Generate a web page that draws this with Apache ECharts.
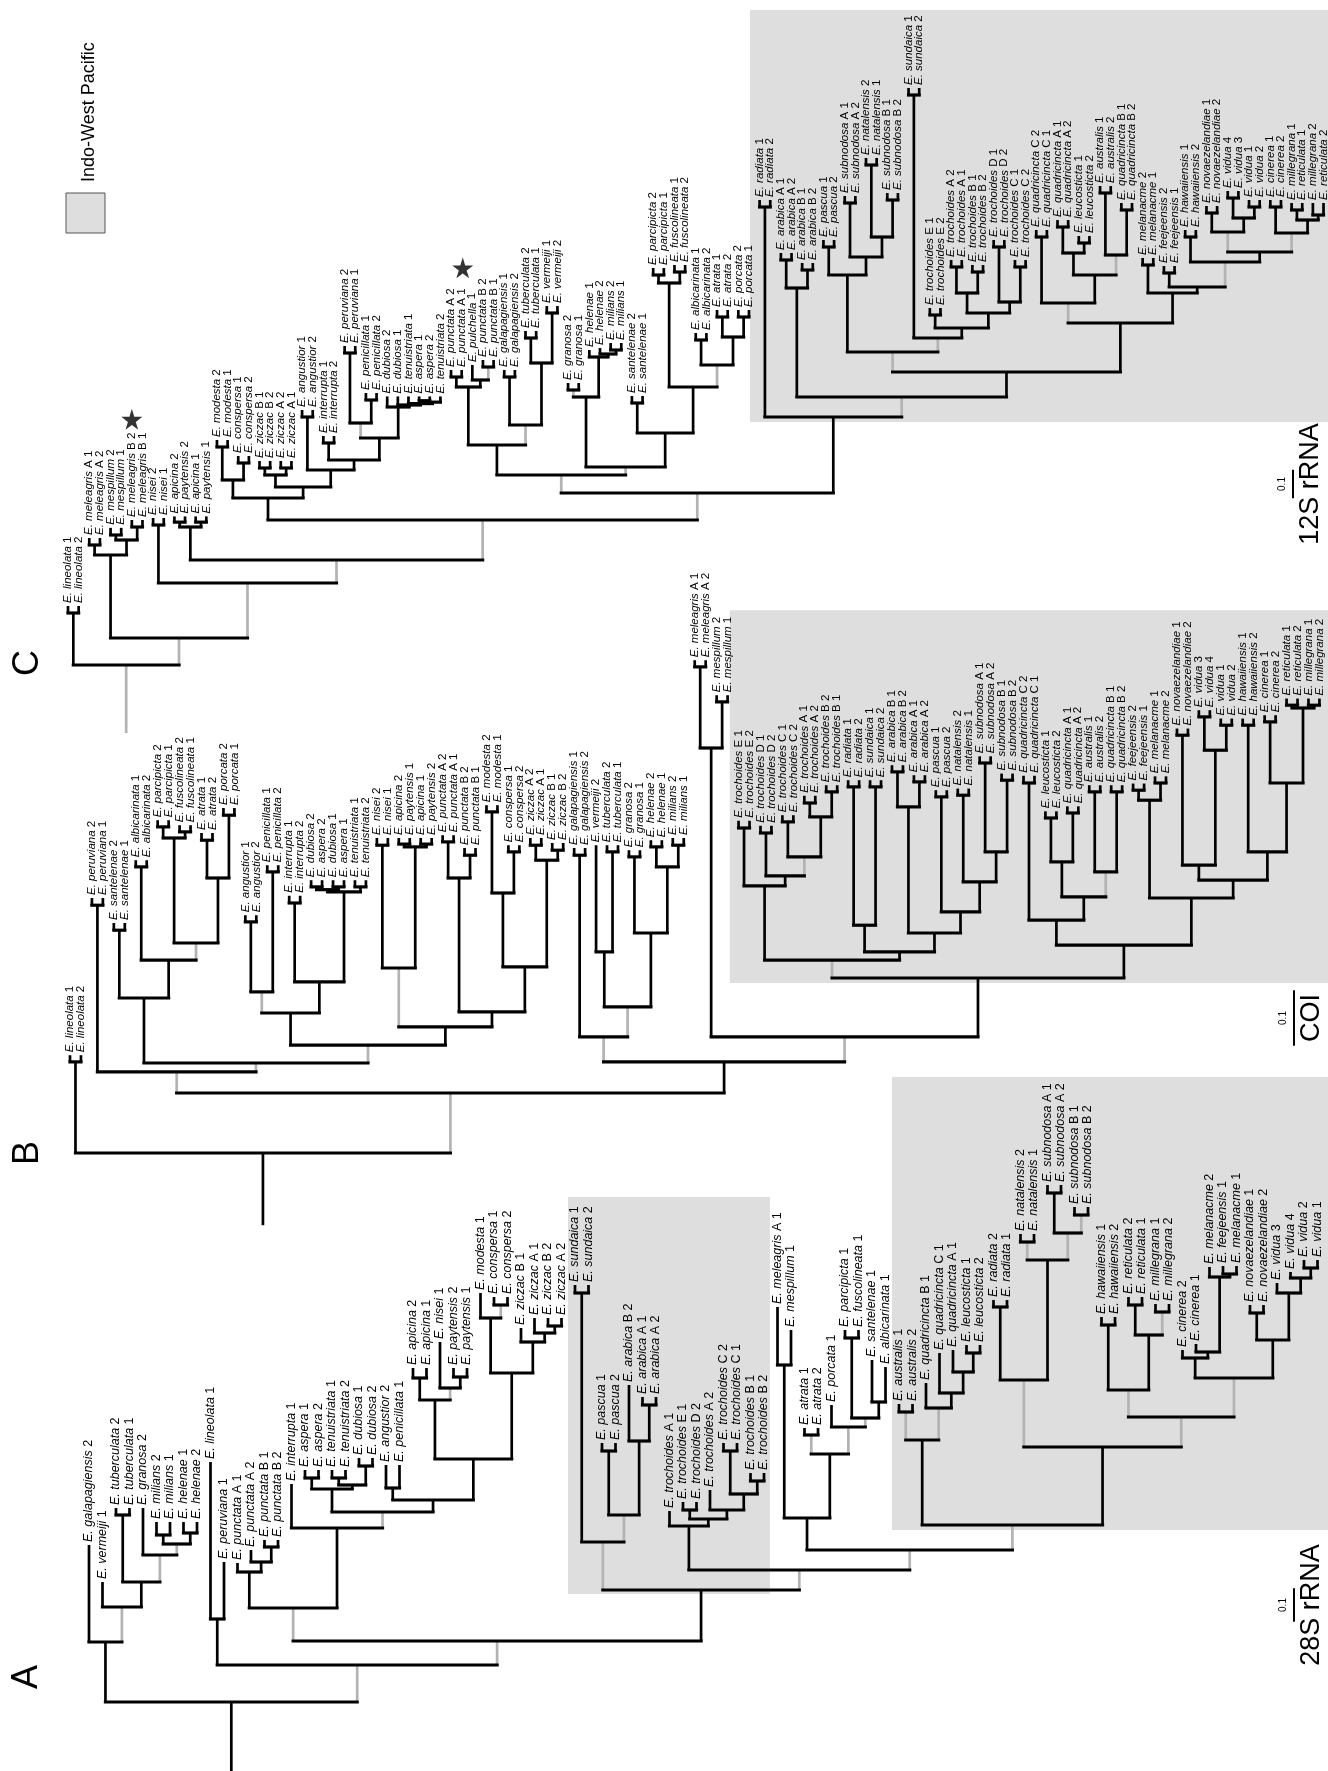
<!DOCTYPE html>
<html><head><meta charset="utf-8">
<script src="https://cdn.jsdelivr.net/npm/echarts/dist/echarts.min.js"></script>
<style>html,body{margin:0;padding:0;background:#fff}#c{width:1328px;height:1771px}</style>
</head><body><div id="c"></div>
<script>
// ================= DATA =================
// Trees in Newick-like notation; the number after ':' is the node height
// (distance from the root, substitutions/site); '~' marks a grey (weakly supported) branch.
const tree28S = `(
(galapagiensis 2:0.471,(vermeiji 1:0.36,((tuberculata 2:0.582,tuberculata 1:0.582):0.561,(granosa 2:0.582,((milians 2:0.54,milians 1:0.54):0.501,(helenae 1:0.54,helenae 2:0.54):0.507)~:0.474)~:0.441):0.36)~:0.285):0.18,
((lineolata 1:0.72,peruviana 1:0.42):0.249,
(
((punctata A 1:0.417,(punctata A 2:0.456,(punctata B 1:0.486,punctata B 2:0.486):0.465):0.42):0.39,
(interrupta 1:0.654,
(((aspera 1:0.696,aspera 2:0.696):0.672,((tenuistriata 1:0.696,tenuistriata 2:0.696):0.672,(dubiosa 1:0.732,dubiosa 2:0.732):0.708):0.651):0.639,
((angustior 2:0.711,penicillata 1:0.711):0.642,
(((apicina 2:1.002,apicina 1:1.002):0.972,(nisei 1:1.08,(paytensis 2:1.002,paytensis 1:1.002):0.975)~:0.942):0.906,
((modesta 1:1.227,(conspersa 1:1.215,conspersa 2:1.215)~:1.191):1.152,(ziczac B 1:1.122,(ziczac A 1:1.152,(ziczac B 2:1.152,ziczac A 2:1.152):1.128):1.107):1.08):0.987
):0.729
):0.606
)~:0.57
):0.522
)~:0.282,
(
((sundaica 1:1.251,sundaica 2:1.251):1.227,((pascua 1:0.777,pascua 2:0.777):0.753,(arabica B 2:0.951,(arabica A 1:0.915,arabica A 2:0.915):0.891):0.783)~:0.561)~:0.48,
(
(trochoides A 1:0.573,((trochoides E 1:0.6,trochoides D 2:0.6):0.576,(trochoides A 2:0.636,((trochoides C 2:0.777,trochoides C 1:0.777):0.753,(trochoides B 1:0.687,trochoides B 2:0.687):0.663):0.624):0.576):0.549):0.528,
(
((meleagris A 1:1.185,mespillum 1:1.116):1.011,((atrata 1:0.822,atrata 2:0.822)~:0.801,(porcata 1:0.891,((parcipicta 1:1.116,fuscolineata 1:1.116):1.092,(santelenae 1:1.026,albicarinata 1:1.005):0.9)~:0.852)~:0.825):0.744):0.552,
(
((australis 1:0.894,australis 2:0.894)~:0.87,(quadricincta B 1:0.957,(quadricincta C 1:1.047,(quadricincta A 1:1.056,(leucosticta 1:1.071,leucosticta 2:1.071):1.047):0.99):0.927)~:0.882):0.786,
(
((radiata 2:1.206,radiata 1:1.206):1.185,((natalensis 2:1.404,natalensis 1:1.404)~:1.38,((subnodosa A 1:1.551,subnodosa A 2:1.551):1.527,(subnodosa B 1:1.485,subnodosa B 2:1.485)~:1.461)~:1.407):1.326)~:0.966,
(
((hawaiiensis 1:1.155,hawaiiensis 2:1.155):1.131,((reticulata 2:1.215,reticulata 1:1.215):1.191,(millegrana 1:1.194,millegrana 2:1.194)~:1.17):1.101)~:0.936,
(
(cinerea 2:1.056,(cinerea 1:1.074,(melanacme 2:1.305,(feejeensis 1:1.308,melanacme 1:1.308):1.284):1.275):1.05):1.032,
((novaezelandiae 1:1.191,novaezelandiae 2:1.191):1.167,(vidua 3:1.257,(vidua 4:1.29,(vidua 2:1.326,vidua 1:1.326):1.302):1.272):1.227):1.086
)~:0.972
)~:0.855
):0.765
)~:0.531
)~:0.456
)~:0.396
):0.336
)~:0.183
)~:0.111
):0`;

const treeCOI = `(
(lineolata 1:0.176,lineolata 2:0.176):0.164,
(
((peruviana 2:0.459,peruviana 1:0.459):0.446,
(
((santelenae 2:0.414,santelenae 1:0.414):0.401,((albicarinata 1:0.527,albicarinata 2:0.527):0.515,(((parcipicta 2:0.599,parcipicta 1:0.599):0.587,(fuscolineata 2:0.59,fuscolineata 1:0.59):0.578):0.567,((atrata 1:0.576,atrata 2:0.576):0.563,(porcata 2:0.621,porcata 1:0.621):0.608):0.495)~:0.378):0.347):0.279,
(
(((angustior 1:0.428,angustior 2:0.428):0.416,(penicillata 1:0.518,penicillata 2:0.518):0.506)~:0.29,((interrupta 1:0.463,interrupta 2:0.463):0.45,(((dubiosa 2:0.491,aspera 2:0.491):0.479,(dubiosa 1:0.491,aspera 1:0.491):0.479):0.474,(tenuistriata 1:0.491,tenuistriata 2:0.491):0.479):0.47):0.308):0.252,
(((nisei 2:0.567,nisei 1:0.567):0.554,((apicina 2:0.567,paytensis 1:0.567):0.556,(apicina 1:0.567,paytensis 2:0.567):0.556):0.551)~:0.333,(((punctata A 2:0.572,punctata A 1:0.572):0.56,(punctata B 2:0.549,punctata B 1:0.549):0.536):0.495,(((modesta 2:0.626,modesta 1:0.626):0.614,(conspersa 1:0.554,conspersa 2:0.554):0.542):0.468,((ziczac A 2:0.567,ziczac A 1:0.567):0.554,(ziczac B 1:0.558,ziczac B 2:0.558):0.545):0.527):0.335):0.254):0.227
)~:0.194
)~:0.162
)~:0.146,
(
((galapagiensis 1:0.549,galapagiensis 2:0.549):0.536,((vermeiji 2:0.554,(tuberculata 2:0.554,tuberculata 1:0.554):0.542):0.362,((granosa 2:0.545,granosa 1:0.545):0.533,((helenae 2:0.563,helenae 1:0.563):0.551,(milians 2:0.567,milians 1:0.567):0.554):0.515):0.396)~:0.263)~:0.209,
(
((meleagris A 1:0.887,meleagris A 2:0.887):0.875,(mespillum 2:0.824,mespillum 1:0.824):0.812):0.729,
(
(
((trochoides E 1:0.598,trochoides E 2:0.598):0.585,((trochoides D 1:0.589,trochoides D 2:0.589):0.576,((trochoides C 1:0.608,trochoides C 2:0.608):0.596,((trochoides A 1:0.643,trochoides A 2:0.643):0.63,(trochoides B 2:0.662,trochoides B 1:0.662):0.65):0.605)~:0.533):0.499):0.481,
(((radiata 1:0.671,radiata 2:0.671):0.659,(sundaica 1:0.671,sundaica 2:0.671):0.659):0.41,(((arabica B 1:0.698,arabica B 2:0.698):0.686,(arabica A 1:0.68,arabica A 2:0.68):0.668):0.623,((pascua 1:0.653,pascua 2:0.653):0.641,((natalensis 2:0.656,natalensis 1:0.656):0.644,((subnodosa A 1:0.714,subnodosa A 2:0.714):0.702,(subnodosa B 1:0.683,subnodosa B 2:0.683):0.671):0.542):0.488):0.434):0.396):0.362
)~:0.347,
(
((quadricincta C 2:0.679,quadricincta C 1:0.679):0.666,(((leucosticta 1:0.615,leucosticta 2:0.615):0.603,(quadricincta A 1:0.624,quadricincta A 2:0.624):0.612):0.524,((australis 1:0.662,australis 2:0.662):0.65,(quadricincta B 1:0.662,quadricincta B 2:0.662):0.65)~:0.506):0.461):0.419,
(((feejeensis 2:0.665,feejeensis 1:0.665):0.653,(melanacme 1:0.678,melanacme 2:0.678):0.666):0.635,(((novaezelandiae 1:0.764,novaezelandiae 2:0.764):0.752,((vidua 3:0.797,vidua 4:0.797):0.785,(vidua 1:0.782,vidua 2:0.782):0.77):0.725):0.518,((hawaiiensis 1:0.782,hawaiiensis 2:0.782):0.77,((cinerea 1:0.788,cinerea 2:0.788):0.776,((reticulata 1:0.818,reticulata 2:0.818):0.806,(millegrana 1:0.818,millegrana 2:0.818):0.806):0.801):0.666):0.542):0.491):0.459
):0.374
):0.315
)~:0.209
):0.164
)~:0.108
):0`;

const tree12S = `(
(lineolata 1:0.2065,lineolata 2:0.2065):0.182,
(
((meleagris A 1:0.4445,meleagris A 2:0.4445):0.42,((mespillum 2:0.48,mespillum 1:0.48):0.455,(meleagris B 2:0.5075,meleagris B 1:0.5075):0.483):0.4375):0.385,
(
(nisei 2:0.5145,nisei 1:0.5145):0.49,
(
((apicina 2:0.52,paytensis 2:0.52):0.5,(apicina 1:0.52,paytensis 1:0.52):0.5):0.483,
(
(((modesta 2:0.7875,modesta 1:0.7875):0.763,(conspersa 1:0.7315,conspersa 2:0.7315):0.707):0.6475,(((ziczac B 1:0.714,ziczac B 2:0.714):0.6895,(ziczac A 2:0.714,ziczac A 1:0.714):0.6895):0.665,((angustior 1:0.8925,angustior 2:0.8925):0.868,((interrupta 1:0.8015,interrupta 2:0.8015):0.777,(((peruviana 2:1.1165,peruviana 1:1.1165):1.092,(penicillata 1:0.952,penicillata 2:0.952):0.9275)~:0.847,(dubiosa 2:0.94,(dubiosa 1:0.94,(tenuistriata 1:0.94,((aspera 1:0.94,aspera 2:0.94):0.925,tenuistriata 2:0.94):0.92):0.915):0.91):0.903):0.7945):0.7175):0.6825):0.623):0.5845,
(
((((punctata A 2:1.0325,punctata A 1:1.0325):1.008,(pulchella 1:1.05,(punctata B 2:1.0675,punctata B 1:1.0675)~:1.043):0.9975):0.973,((galapagiensis 1:1.0325,galapagiensis 2:1.0325):1.008,((tuberculata 2:1.169,tuberculata 1:1.169):1.1445,(vermeiji 1:1.2565,vermeiji 2:1.2565):1.232):1.057)~:0.84):0.77,
(((granosa 2:0.987,granosa 1:0.987)~:0.9625,(helenae 1:1.1025,(helenae 2:1.1095,(milians 2:1.127,milians 1:1.127):1.1025):1.0885):1.078):0.938,((santelenae 2:0.9415,santelenae 1:0.9415):0.917,(((parcipicta 2:1.3895,parcipicta 1:1.3895):1.365,(fuscolineata 1:1.4,fuscolineata 2:1.4):1.3755):1.337,((albicarinata 1:1.162,albicarinata 2:1.162):1.1375,((atrata 1:1.2425,atrata 2:1.2425):1.218,(porcata 2:1.2425,porcata 1:1.2425):1.218):1.148)~:1.05):0.973):0.812)~:0.693
)~:0.665,
((radiata 1:1.6275,radiata 2:1.6275):1.603,
(((arabica A 1:1.442,arabica A 2:1.442):1.4175,(arabica B 1:1.407,arabica B 2:1.407):1.3825):1.3195,
(
(((pascua 1:1.4875,pascua 2:1.4875):1.463,((subnodosa A 1:1.6415,subnodosa A 2:1.6415):1.617,((natalensis 2:1.7745,natalensis 1:1.7745):1.75,(subnodosa B 1:1.652,subnodosa B 2:1.652):1.6275):1.498):1.428):1.365,
((sundaica 1:2.0195,sundaica 2:2.0195):1.995,((trochoides E 1:1.2495,trochoides E 2:1.2495):1.225,(((trochoides A 2:1.4175,trochoides A 1:1.4175):1.393,(trochoides B 1:1.4,trochoides B 2:1.4):1.3755):1.302,((trochoides D 1:1.4875,trochoides D 2:1.4875):1.463,(trochoides C 1:1.4175,trochoides C 2:1.4175):1.393):1.2705):1.232):1.1795)~:1.1445
)~:1.0955,
(
((quadricincta C 2:1.5225,quadricincta C 1:1.5225):1.498,(((quadricincta A 1:1.5575,quadricincta A 2:1.5575):1.533,(leucosticta 1:1.5015,leucosticta 2:1.5015):1.477):1.442,((australis 1:1.6765,australis 2:1.6765):1.652,(quadricincta B 1:1.617,quadricincta B 2:1.617):1.5925)~:1.435):1.365)~:1.267,
((melanacme 2:1.4245,melanacme 1:1.4245):1.4,((feejeensis 2:1.3965,feejeensis 1:1.3965):1.372,((hawaiiensis 1:1.5225,hawaiiensis 2:1.5225):1.498,(((novaezelandiae 1:1.6065,novaezelandiae 2:1.6065):1.582,((vidua 4:1.659,vidua 3:1.659):1.6345,(vidua 1:1.6275,vidua 2:1.6275):1.603):1.5645)~:1.5155,((cinerea 1:1.6275,cinerea 2:1.6275):1.603,((millegrana 1:1.617,reticulata 1:1.617):1.5925,(millegrana 2:1.617,reticulata 2:1.617):1.575):1.5575)~:1.512):1.4455)~:1.4105):1.323):1.302
):1.197
):1.0255
)~:0.938
):0.868
)~:0.602
)~:0.5075
)~:0.3675
)~:0.287
)~:0.0945
):0`;

const treeStrings = [tree28S, treeCOI, tree12S];
const panelLetters = ['A', 'B', 'C'];
const markerNames = ['28S rRNA', 'COI', '12S rRNA'];
const scaleBarValue = 0.1;
const rootStemHeights = [-0.207, -0.13, -0.238];   // where each root stem starts
const rootStemGrey = [false, false, true];
// Indo-West Pacific shaded areas: [fromLeaf, toLeaf, fromHeight, toHeight]
const boxes28S = [[35.48, 50.44, 0.324, 1.515], [59.48, 92.5, 0.516, 1.875]];
const boxesCOI = [[60.2, 116, 0.306, 0.977]];
const boxes12S = [[64.1, 120, 0.8505, 2.2925]];
const boxSets = [boxes28S, boxesCOI, boxes12S];
// stars in 12S tree: [leafPosition, height]
const stars12S = [[6.0, 0.86], [37.1, 1.39]];
const legendText = 'Indo-West Pacific';

// ================= LAYOUT (pixels) =================
const W = 1328, H = 1771;
const LAYOUT = [
  {x0: 89, dx: 13.5,  y0: 1702, ppu: 333.33, font: 12.5, bar: [1294, 1605], letter: [27, 1677]},
  {x0: 70, dx: 10.96, y0: 1153, ppu: 555.56, font: 11.5, bar: [1294, 1018], letter: [28, 1153]},
  {x0: 68, dx: 10.64, y0: 665,  ppu: 285.71, font: 11.5, bar: [1293, 484],  letter: [28, 663]}
];
const FONT = "'Liberation Sans', Arial, Helvetica, sans-serif";
const GREY = '#b3b3b3', BOXFILL = '#dedede';

// ================= TREE PARSER / LAYOUT =================
function parseTree(str) {
  const s = str.replace(/\s*\n\s*/g, '');
  let i = 0;
  function num() { const j = i; while (i < s.length && /[0-9.\-]/.test(s[i])) i++; return parseFloat(s.slice(j, i)); }
  function node() {
    const n = {};
    if (s[i] === '(') {
      i++; n.children = [];
      while (true) {
        n.children.push(node());
        if (s[i] === ',') { i++; continue; }
        if (s[i] === ')') { i++; break; }
        throw new Error('parse error at ' + i);
      }
    } else {
      const j = i; while (i < s.length && !/[:,()~]/.test(s[i])) i++;
      n.name = s.slice(j, i).trim();
    }
    if (s[i] === '~') { n.grey = true; i++; }
    if (s[i] === ':') { i++; n.h = num(); }
    return n;
  }
  return node();
}
function buildTree(root, stemH, stemGrey) {
  const leaves = [], vsegs = [], hsegs = [];
  (function walk(n) {
    if (!n.children) { n.x = leaves.length; leaves.push(n); return; }
    n.children.forEach(walk);
    n.x = (n.children[0].x + n.children[n.children.length - 1].x) / 2;
  })(root);
  (function seg(n) {
    if (!n.children) return;
    hsegs.push([n.children[0].x, n.h, n.children[n.children.length - 1].x, n.h, 0, 1]);
    n.children.forEach(c => { vsegs.push([c.x, n.h, c.x, c.h, c.grey ? 1 : 0, 0]); seg(c); });
  })(root);
  vsegs.push([root.x, stemH, root.x, root.h, stemGrey ? 1 : 0, 0]);
  return {leaves, segs: vsegs.concat(hsegs)};
}

const trees = treeStrings.map((s, t) => buildTree(parseTree(s), rootStemHeights[t], rootStemGrey[t]));

// ================= OPTION =================
const grids = [], xAxes = [], yAxes = [], series = [];
trees.forEach((tr, t) => {
  const L = LAYOUT[t];
  grids.push({left: 0, top: 0, width: W, height: H, containLabel: false});
  xAxes.push({type: 'value', gridIndex: t, show: false, min: -L.x0 / L.dx, max: (W - L.x0) / L.dx});
  yAxes.push({type: 'value', gridIndex: t, show: false, min: -(H - L.y0) / L.ppu, max: L.y0 / L.ppu});
  // shaded areas
  series.push({
    type: 'custom', xAxisIndex: t, yAxisIndex: t, silent: true, z: 1, clip: true,
    data: boxSets[t], encode: {x: [0, 1], y: [2, 3]},
    renderItem(params, api) {
      const a = api.coord([api.value(0), api.value(3)]);
      const b = api.coord([api.value(1), api.value(2)]);
      return {type: 'rect', shape: {x: a[0], y: a[1], width: b[0] - a[0], height: b[1] - a[1]}, style: {fill: BOXFILL}};
    }
  });
  // branches
  series.push({
    type: 'custom', xAxisIndex: t, yAxisIndex: t, silent: true, z: 3, clip: false,
    data: tr.segs, encode: {x: [0, 2], y: [1, 3]},
    renderItem(params, api) {
      const a = api.coord([api.value(0), api.value(1)]);
      const b = api.coord([api.value(2), api.value(3)]);
      const grey = api.value(4) === 1, hz = api.value(5) === 1;
      return {type: 'line', z2: hz ? 5 : (grey ? 1 : 3),
        shape: {x1: a[0], y1: a[1], x2: b[0], y2: b[1]},
        style: {stroke: grey ? GREY : '#000', lineWidth: hz ? 3.2 : 2.7, lineCap: hz ? 'square' : 'butt'}};
    }
  });
  // leaf labels
  const leafData = tr.leaves.map(l => [l.x, l.h]);
  series.push({
    type: 'custom', xAxisIndex: t, yAxisIndex: t, silent: true, z: 4, clip: false,
    data: leafData, encode: {x: 0, y: 1},
    renderItem(params, api) {
      const p = api.coord([api.value(0), api.value(1)]);
      const name = tr.leaves[params.dataIndex].name;
      const m = name.match(/^(\S+)\s+(.*)$/);
      const sp = m ? m[1] : name, suf = m ? m[2] : '';
      return {type: 'text', x: p[0], y: p[1] - 3, rotation: Math.PI / 2,
        style: {text: '{i|E. ' + sp + '} ' + suf, fill: '#000', fontSize: L.font, fontFamily: FONT,
          align: 'left', verticalAlign: 'middle',
          rich: {i: {fontStyle: 'italic', fontSize: L.font, fontFamily: FONT, fill: '#000'}}}};
    }
  });
  // scale bar (length from the axis scale)
  series.push({
    type: 'custom', xAxisIndex: t, yAxisIndex: t, silent: true, z: 4, clip: false,
    data: [[0, 0]],
    renderItem(params, api) {
      const len = api.size([0, scaleBarValue])[1];
      const bx = L.bar[0], by = L.bar[1];
      return {type: 'group', children: [
        {type: 'line', shape: {x1: bx, y1: by - len / 2, x2: bx, y2: by + len / 2}, style: {stroke: '#000', lineWidth: 2}},
        {type: 'text', x: bx - 11, y: by, rotation: Math.PI / 2,
          style: {text: String(scaleBarValue), fill: '#000', fontSize: 10, fontFamily: FONT, align: 'center', verticalAlign: 'middle'}},
        {type: 'text', x: bx + 18, y: by, rotation: Math.PI / 2,
          style: {text: markerNames[t], fill: '#000', fontSize: 27, fontFamily: FONT, align: 'center', verticalAlign: 'middle'}}
      ]};
    }
  });
});
// stars (12S tree)
series.push({
  type: 'scatter', xAxisIndex: 2, yAxisIndex: 2, silent: true, z: 5,
  symbol: 'path://M50,0 L61,35 L98,35 L68,57 L79,91 L50,70 L21,91 L32,57 L2,35 L39,35 Z',
  symbolSize: 21, itemStyle: {color: '#000'}, data: stars12S
});

const graphic = panelLetters.map((txt, t) => ({
  type: 'text', x: LAYOUT[t].letter[0], y: LAYOUT[t].letter[1], rotation: Math.PI / 2,
  style: {text: txt, fontSize: 36, fontFamily: FONT, fill: '#000', align: 'center', verticalAlign: 'middle'}
}));
graphic.push({type: 'rect', shape: {x: 66, y: 193, width: 39, height: 40}, style: {fill: BOXFILL, stroke: '#555', lineWidth: 1}});
graphic.push({type: 'text', x: 89, y: 182, rotation: Math.PI / 2,
  style: {text: legendText, fontSize: 18, fontFamily: FONT, fill: '#000', align: 'left', verticalAlign: 'middle'}});

const chart = echarts.init(document.getElementById('c'), null, {renderer: 'canvas', width: W, height: H});
chart.setOption({animation: false, backgroundColor: '#fff', grid: grids, xAxis: xAxes, yAxis: yAxes, series, graphic});
</script></body></html>
